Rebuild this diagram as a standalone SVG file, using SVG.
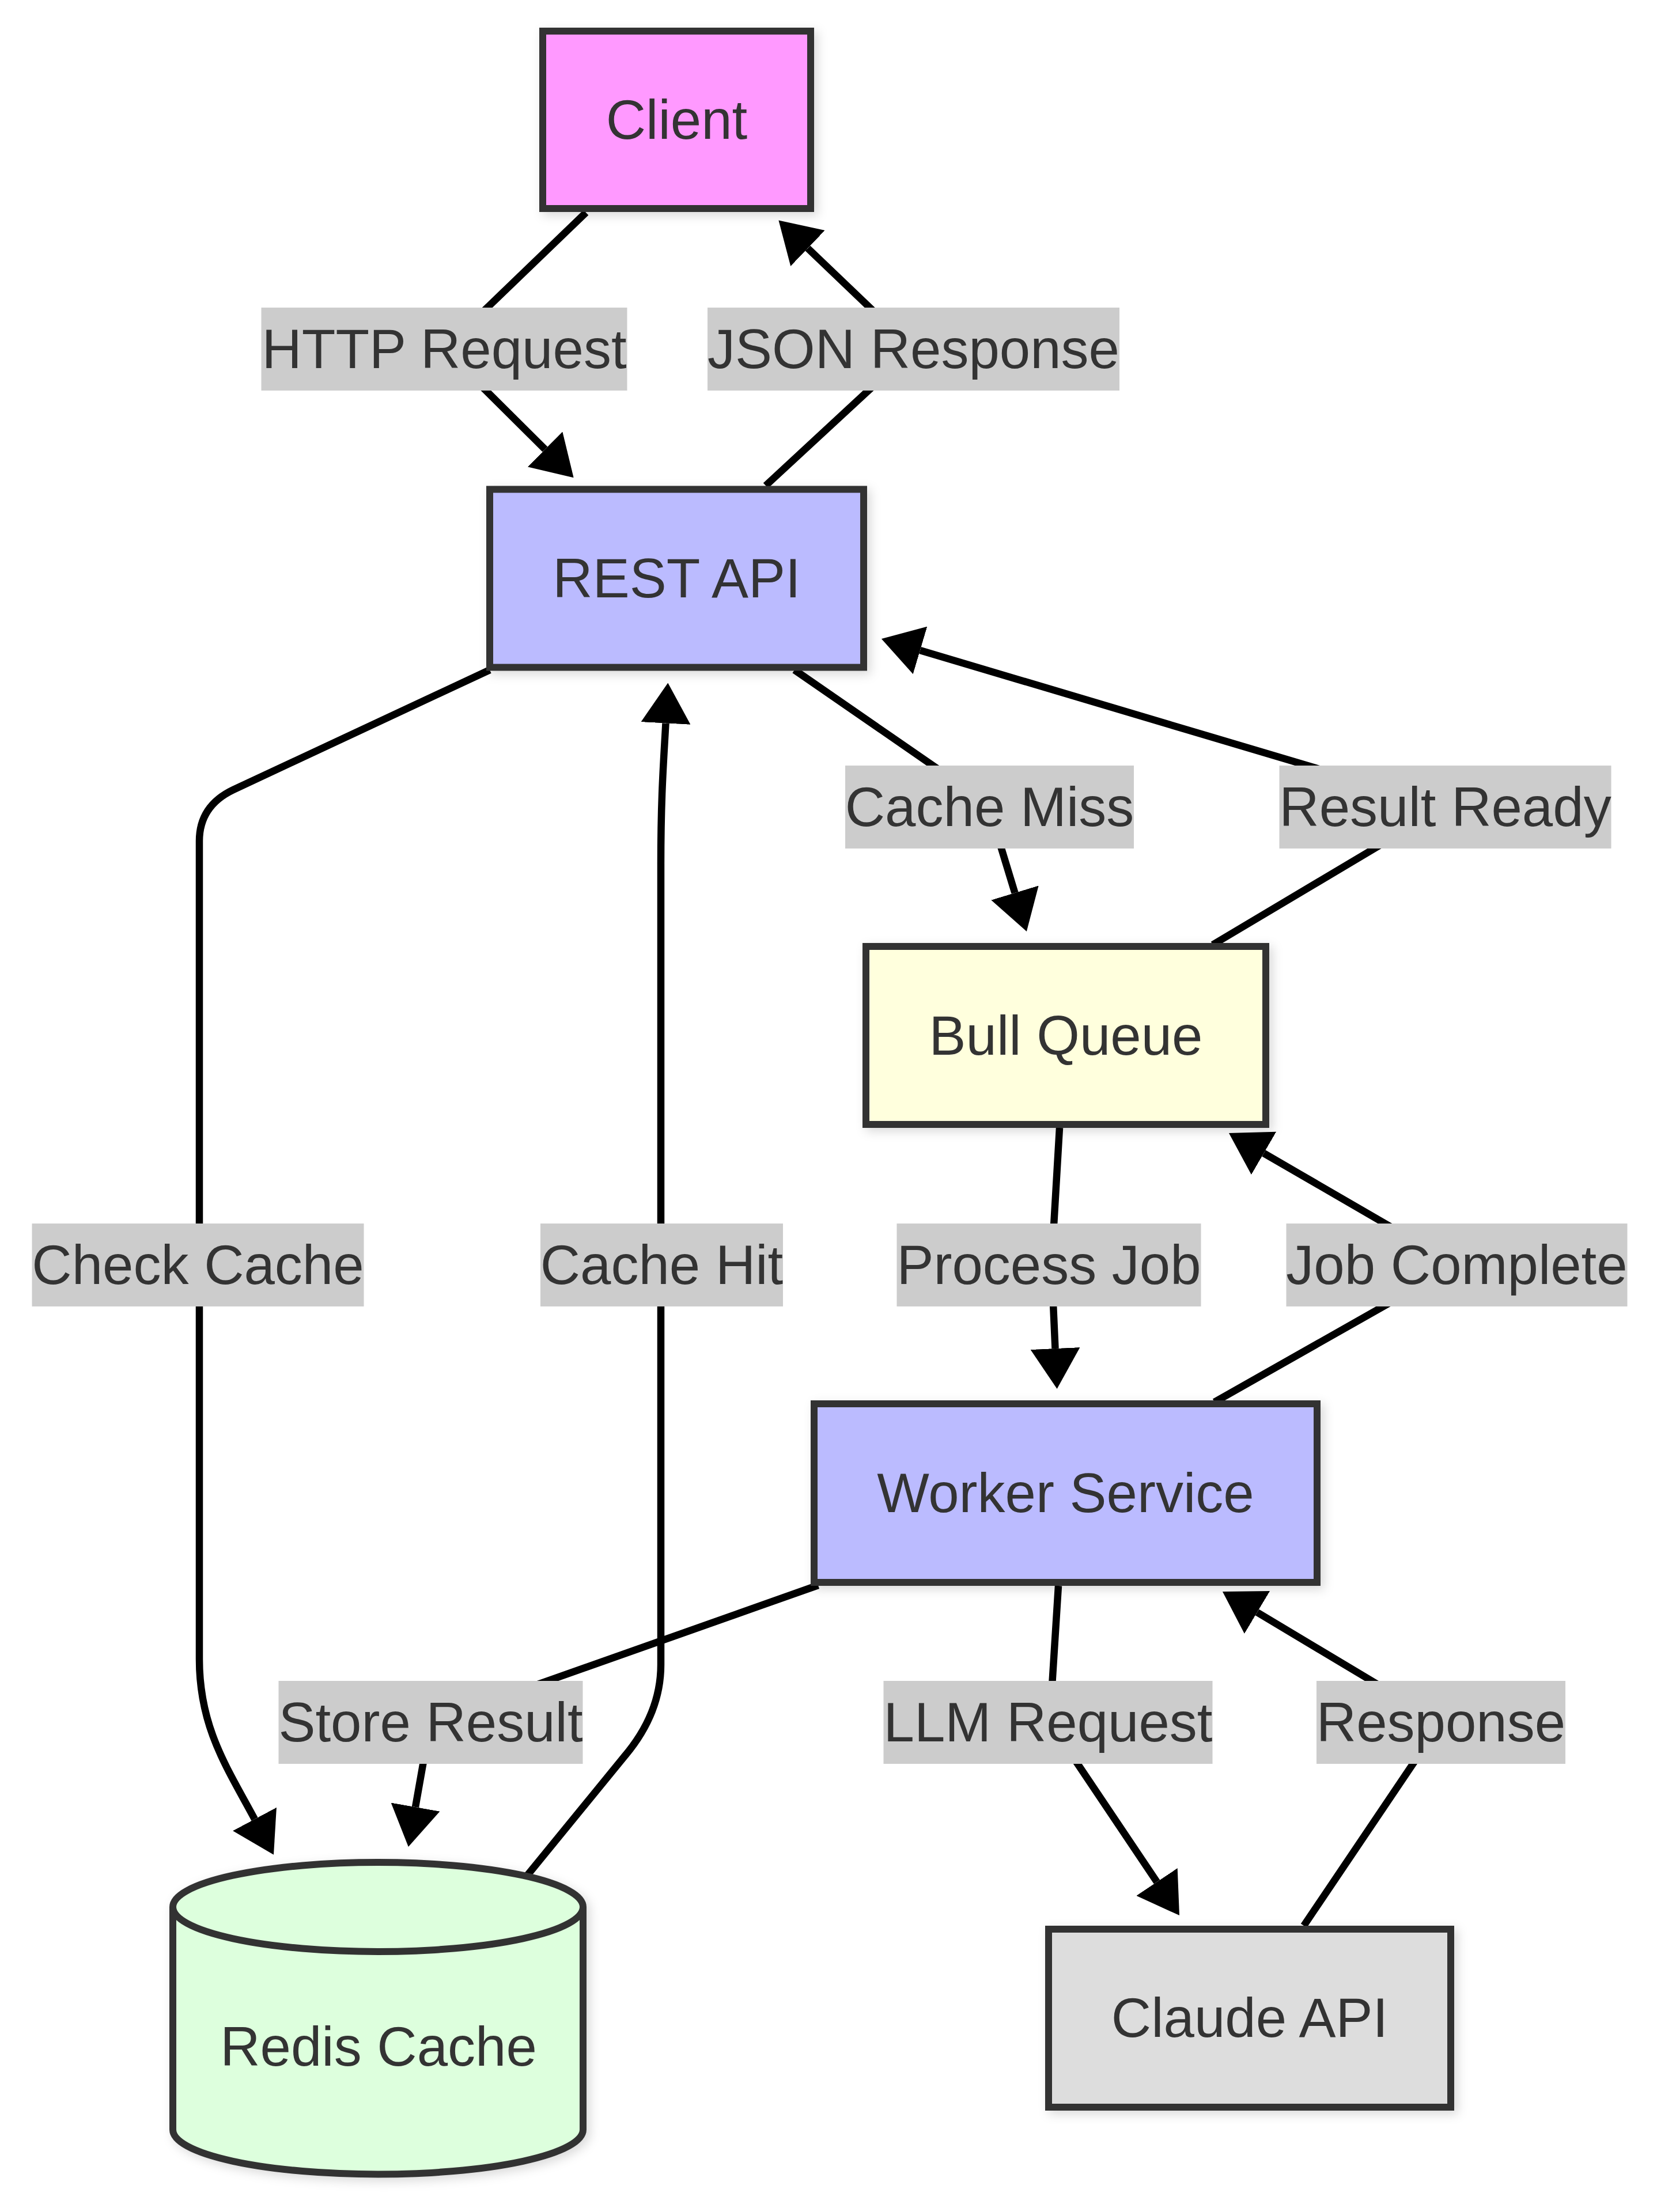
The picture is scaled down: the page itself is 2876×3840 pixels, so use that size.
<svg xmlns="http://www.w3.org/2000/svg" width="2876" height="3840" viewBox="0 0 2876 3840">
<style>
.node{stroke:#333333;stroke-width:12}
.ntext{font-family:"Liberation Sans",Arial,sans-serif;font-size:96px;fill:#333333;text-anchor:middle}
.edge{fill:none;stroke:#000000;stroke-width:12.5}
.lbg{fill:#cccccc}
.ltext{font-family:"Liberation Sans",Arial,sans-serif;font-size:96px;fill:#333333;text-anchor:middle}
</style>
<defs>
<marker id="arrow" viewBox="0 0 70 86" markerWidth="70" markerHeight="86" refX="0" refY="43" orient="auto" markerUnits="userSpaceOnUse">
<path d="M0,0 L70,43 L0,86 z" fill="#000000"/>
</marker>
<filter id="shadow" x="-20%" y="-20%" width="140%" height="140%">
<feDropShadow dx="6" dy="6" stdDeviation="9" flood-color="#000000" flood-opacity="0.15"/>
</filter>
</defs>
<rect width="2876" height="3840" fill="#ffffff"/>
<g id="connectors">
<path class="edge" marker-end="url(#arrow)" d="M1017,369 L771,606 L946,780"/>
<path class="edge" marker-end="url(#arrow)" d="M1329,843 L1585,606 L1402,431"/>
<path class="edge" marker-end="url(#arrow)" d="M850,1163 L405,1371 Q346,1399 346,1460 L346,2880 C346,3000 395,3070 442,3158"/>
<path class="edge" marker-end="url(#arrow)" d="M914,3257 L1083,3050 Q1147,2975 1147,2890 L1147,1500 C1147,1380 1152,1320 1155.5,1255.5"/>
<path class="edge" marker-end="url(#arrow)" d="M1379,1163 L1690,1378 Q1716,1396 1722,1420 L1761.5,1550"/>
<path class="edge" marker-end="url(#arrow)" d="M2105,1640 L2508,1400 L1597,1129"/>
<path class="edge" marker-end="url(#arrow)" d="M1839,1958 L1825,2196 L1831.5,2341"/>
<path class="edge" marker-end="url(#arrow)" d="M2108,2434 L2528,2196 L2193.5,2002"/>
<path class="edge" marker-end="url(#arrow)" d="M1420,2752 L747,2990 L721,3137"/>
<path class="edge" marker-end="url(#arrow)" d="M1837,2753 L1822,2990 L2008,3267"/>
<path class="edge" marker-end="url(#arrow)" d="M2263,3343 L2501,2990 L2182,2799"/>
</g>
<g id="edge-labels">
<g id="label-http-request"><rect class="lbg" x="453.5" y="534" width="635" height="144"/><text class="ltext" x="771" y="639">HTTP Request</text></g>
<g id="label-json-response"><rect class="lbg" x="1228" y="534" width="715" height="144"/><text class="ltext" x="1585.5" y="639">JSON Response</text></g>
<g id="label-cache-miss"><rect class="lbg" x="1467" y="1329" width="501" height="144"/><text class="ltext" x="1717.5" y="1434">Cache Miss</text></g>
<g id="label-result-ready"><rect class="lbg" x="2220.5" y="1329" width="576" height="144"/><text class="ltext" x="2508.5" y="1434">Result Ready</text></g>
<g id="label-check-cache"><rect class="lbg" x="55.5" y="2124" width="576" height="144"/><text class="ltext" x="343.5" y="2229">Check Cache</text></g>
<g id="label-cache-hit"><rect class="lbg" x="938" y="2124" width="421" height="144"/><text class="ltext" x="1148.5" y="2229">Cache Hit</text></g>
<g id="label-process-job"><rect class="lbg" x="1556.5" y="2124" width="528" height="144"/><text class="ltext" x="1820.5" y="2229">Process Job</text></g>
<g id="label-job-complete"><rect class="lbg" x="2232.5" y="2124" width="592" height="144"/><text class="ltext" x="2528.5" y="2229">Job Complete</text></g>
<g id="label-store-result"><rect class="lbg" x="483.5" y="2918" width="528" height="144"/><text class="ltext" x="747.5" y="3023">Store Result</text></g>
<g id="label-llm-request"><rect class="lbg" x="1533.5" y="2918" width="571" height="144"/><text class="ltext" x="1819" y="3023">LLM Request</text></g>
<g id="label-response"><rect class="lbg" x="2285" y="2918" width="432" height="144"/><text class="ltext" x="2501" y="3023">Response</text></g>
</g>
<g id="node-client"><rect class="node" x="942" y="54" width="465" height="308" fill="#ff99ff" filter="url(#shadow)"/><text class="ntext" x="1174.5" y="241">Client</text></g>
<g id="node-rest-api"><rect class="node" x="850" y="849.5" width="649" height="309" fill="#bbbbff" filter="url(#shadow)"/><text class="ntext" x="1174.5" y="1037">REST API</text></g>
<g id="node-bull-queue"><rect class="node" x="1503" y="1643" width="694" height="309" fill="#ffffdd" filter="url(#shadow)"/><text class="ntext" x="1850" y="1830.5">Bull Queue</text></g>
<g id="node-worker-service"><rect class="node" x="1413" y="2437" width="873" height="310" fill="#bbbbff" filter="url(#shadow)"/><text class="ntext" x="1849.5" y="2625">Worker Service</text></g>
<g id="node-claude-api"><rect class="node" x="1820" y="3349" width="698" height="309" fill="#dddddd" filter="url(#shadow)"/><text class="ntext" x="2169" y="3536">Claude API</text></g>
<g id="node-redis-cache"><path class="node" fill="#ddffdd" filter="url(#shadow)" d="M300,3310.5 a356,77.5 0 0 0 712,0 a356,77.5 0 0 0 -712,0 l0,386.5 a356,77.5 0 0 0 712,0 l0,-386.5"/><text class="ntext" x="657" y="3586">Redis Cache</text></g>
</svg>
